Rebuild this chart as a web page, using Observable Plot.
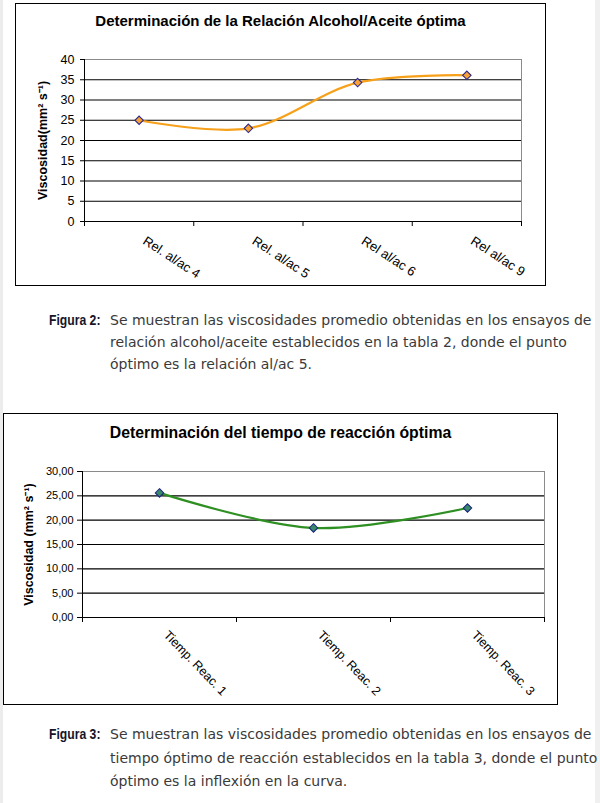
<!DOCTYPE html>
<html>
<head>
<meta charset="utf-8">
<script src="https://cdn.jsdelivr.net/npm/d3@7"></script>
<script src="https://cdn.jsdelivr.net/npm/@observablehq/plot@0.6"></script>
<style>
  html, body { margin: 0; padding: 0; }
  body { width: 600px; height: 803px; position: relative; background: #fff; overflow: hidden; }
  .strip { position: absolute; top: 0; height: 803px; background: #ececec; }
  .box { position: absolute; border: 1px solid #000; background: #fff; }
  .box svg { position: absolute; left: 0; top: 0; }
  .ctitle { position: absolute; left: 0; width: 100%; text-align: center; font-family: "Liberation Sans", Arial, sans-serif; font-weight: bold; color: #000; white-space: nowrap; }
  .cap { position: absolute; font-family: "DejaVu Sans", sans-serif; font-size: 14px; color: #3a3a3a; white-space: nowrap; }
  .lab { position: absolute; font-family: "Liberation Sans", Arial, sans-serif; font-size: 14.5px; font-weight: bold; color: #15152a; white-space: nowrap; transform: scaleX(0.84); transform-origin: left center; }
</style>
</head>
<body>
<div class="strip" style="left:0;width:3px"></div>
<div class="strip" style="left:595px;width:5px;background:#f0f0f0"></div>

<div class="box" id="box1" style="left:15px;top:3px;width:529px;height:281px">
  <div class="ctitle" id="t1" style="top:8px;font-size:15px;line-height:18px"></div>
</div>
<div class="lab" id="cap1lab" style="left:49px;top:309px;line-height:22px"></div>
<div class="cap" id="cap1" style="left:110px;top:309px;line-height:22px"></div>

<div class="box" id="box2" style="left:3px;top:413px;width:553px;height:290px">
  <div class="ctitle" id="t2" style="top:10px;font-size:15.8px;line-height:18px"></div>
</div>
<div class="lab" id="cap2lab" style="left:49px;top:723px;line-height:23.5px"></div>
<div class="cap" id="cap2" style="left:110px;top:723px;line-height:23.5px"></div>

<script>
// ---- Chart 1 data ----
const title1 = "Determinación de la Relación Alcohol/Aceite óptima";
const cats1 = ["Rel. al/ac 4", "Rel. al/ac 5", "Rel al/ac 6", "Rel al/ac 9"];
const vals1 = [25, 23, 34.3, 36.1];
const yTicks1 = [0, 5, 10, 15, 20, 25, 30, 35, 40];
const yLabel1 = "Viscosidad(mm² s⁻¹)";
const capLabel1 = "Figura 2:";
const capLines1 = [
  "Se muestran las viscosidades promedio obtenidas en los ensayos de",
  "relación alcohol/aceite establecidos en la tabla 2, donde el punto",
  "óptimo es la relación al/ac 5."
];

// ---- Chart 2 data ----
const title2 = "Determinación del tiempo de reacción óptima";
const cats2 = ["Tiemp. Reac. 1", "Tiemp. Reac. 2", "Tiemp. Reac. 3"];
const vals2 = [25.6, 18.4, 22.5];
const yTicks2 = [0, 5, 10, 15, 20, 25, 30];
const yLabel2 = "Viscosidad (mm² s⁻¹)";
const capLabel2 = "Figura 3:";
const capLines2 = [
  "Se muestran las viscosidades promedio obtenidas en los ensayos de",
  "tiempo óptimo de reacción establecidos en la tabla 3, donde el punto",
  "óptimo es la inflexión en la curva."
];

function chart(o) {
  const n = o.cats.length;
  const data = o.cats.map((c, i) => ({c, x: i + 0.5, v: o.vals[i]}));
  const ymax = o.yTicks[o.yTicks.length - 1];
  return Plot.plot({
    width: o.width, height: o.height,
    marginLeft: o.ml, marginRight: o.mr, marginTop: o.mt, marginBottom: o.mb,
    x: {domain: [0, n], axis: null},
    y: {domain: [0, ymax], axis: null},
    style: {fontFamily: "'Liberation Sans', Arial, sans-serif", fontSize: o.tickFont + "px", color: "#000", background: "transparent", overflow: "visible"},
    marks: [
      Plot.ruleY(o.yTicks.slice(1, -1), {stroke: "#000", strokeWidth: 1.1}),
      Plot.frame({stroke: "#8a8a8a"}),
      Plot.ruleX([0], {stroke: "#000"}),
      Plot.ruleY([0], {stroke: "#000"}),
      Plot.axisY({ticks: o.yTicks, tickFormat: o.fmt, tickSize: o.tickSize, tickPadding: o.tickPad, label: null, stroke: "#000", fill: "#000"}),
      Plot.axisX({ticks: d3.range(n + 1), tickFormat: () => "", tickSize: 5, label: null, stroke: "#000"}),
      Plot.line(data, {x: "x", y: "v", curve: "catmull-rom", stroke: o.lineColor, strokeWidth: 2.2}),
      Plot.dot(data, {x: "x", y: "v", symbol: "diamond2", r: 3.8, fill: o.dotFill, stroke: o.dotStroke, strokeWidth: 1.1}),
      Plot.text(data, {x: "x", y: 0, text: "c", rotate: o.rot, textAnchor: "start", lineAnchor: "top", dx: o.ldx, dy: o.ldy, fontSize: o.labFont, fill: "#000"}),
      Plot.text([o.ylabel], {frameAnchor: "left", textAnchor: "middle", lineAnchor: "middle", rotate: -90, dx: o.ylDx, fontWeight: "bold", fontSize: o.ylFont, fill: "#000"})
    ]
  });
}

const c1 = chart({
  cats: cats1, vals: vals1, yTicks: yTicks1, ylabel: yLabel1,
  width: 529, height: 281, ml: 68, mr: 24, mt: 55, mb: 64,
  fmt: d => String(d), tickFont: 12.5, tickSize: 4, tickPad: 6,
  labFont: 13, rot: 33, ldx: 8, ldy: 14,
  ylDx: -42, ylFont: 12.5,
  lineColor: "#f7a01a", dotFill: "#f9a132", dotStroke: "#2e2a8c"
});
document.getElementById("box1").appendChild(c1);
document.getElementById("t1").textContent = title1;

const c2 = chart({
  cats: cats2, vals: vals2, yTicks: yTicks2, ylabel: yLabel2,
  width: 553, height: 290, ml: 78, mr: 13, mt: 57, mb: 87,
  fmt: d => d.toFixed(2).replace(".", ","), tickFont: 11, tickSize: 5, tickPad: 4,
  labFont: 12.5, rot: 46, ldx: 10, ldy: 12,
  ylDx: -54, ylFont: 12.5,
  lineColor: "#2e8f22", dotFill: "#3a8a6a", dotStroke: "#1b2a80"
});
document.getElementById("box2").appendChild(c2);
document.getElementById("t2").textContent = title2;

function caption(labId, txtId, label, lines) {
  document.getElementById(labId).textContent = label;
  const t = document.getElementById(txtId);
  lines.forEach((l, i) => {
    if (i) t.appendChild(document.createElement("br"));
    t.appendChild(document.createTextNode(l));
  });
}
caption("cap1lab", "cap1", capLabel1, capLines1);
caption("cap2lab", "cap2", capLabel2, capLines2);
</script>
</body>
</html>
